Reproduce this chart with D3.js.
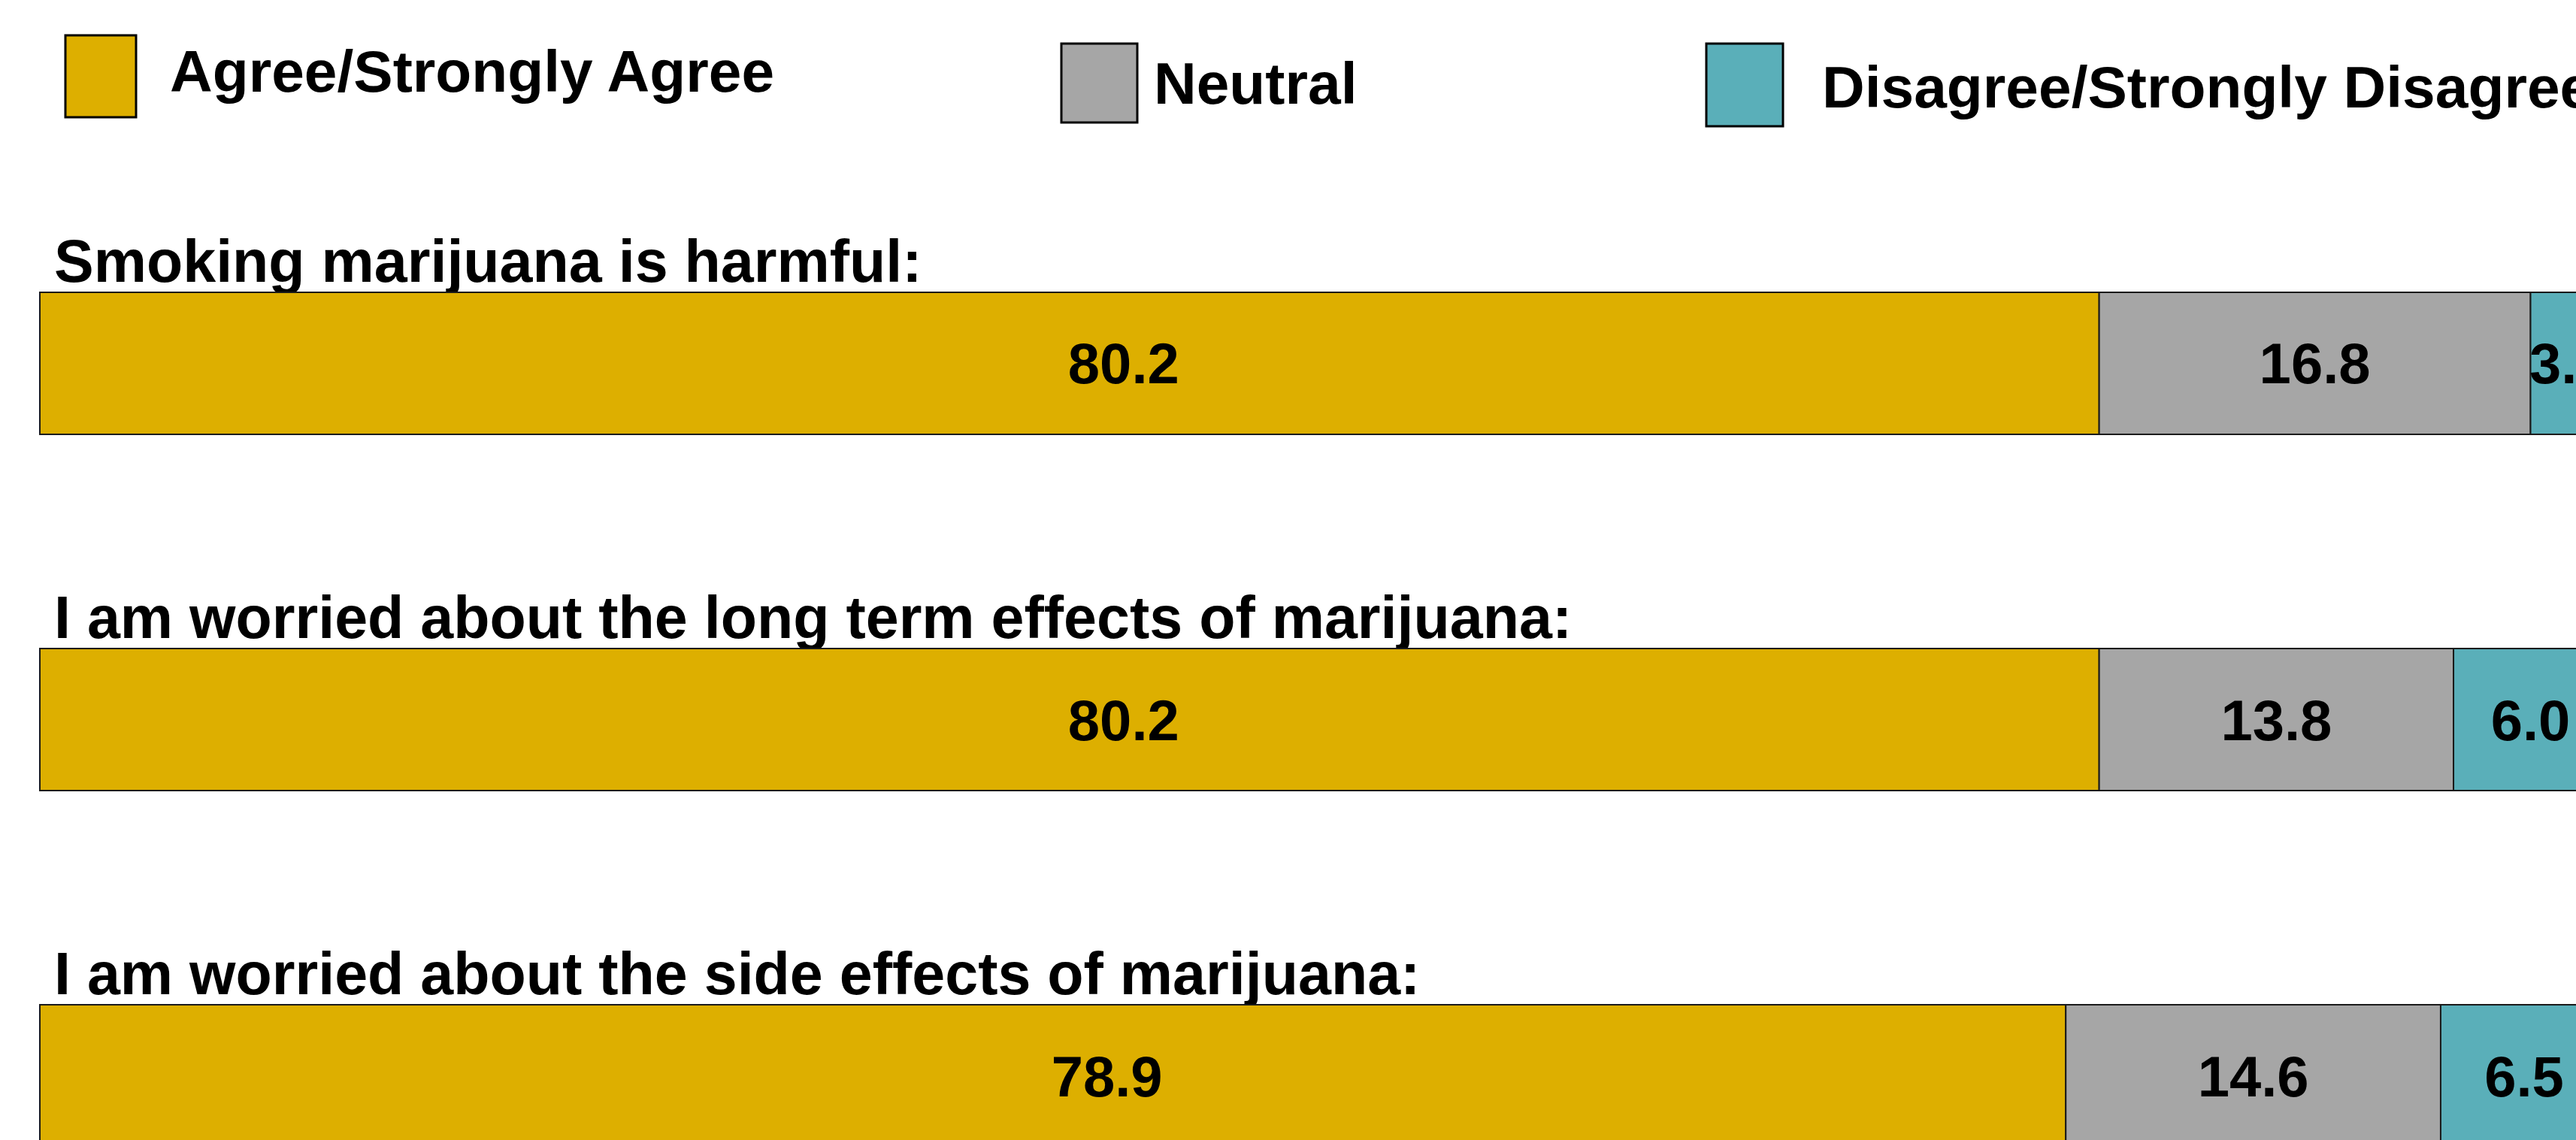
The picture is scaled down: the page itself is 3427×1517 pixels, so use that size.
<!DOCTYPE html>
<html>
<head>
<meta charset="utf-8">
<script src="https://cdn.jsdelivr.net/npm/d3@7"></script>
<style>
  html, body { margin: 0; padding: 0; background: #fff; overflow: hidden; }
  text { font-family: "Liberation Sans", Arial, sans-serif; font-weight: bold; fill: #000; }
</style>
</head>
<body>
<div id="chart"></div>
<script>
// survey statements (one bar each)
const statements = [
  "Smoking marijuana is harmful:",
  "I am worried about the long term effects of marijuana:",
  "I am worried about the side effects of marijuana:"
];
const seriesNames = ["Agree/Strongly Agree", "Neutral", "Disagree/Strongly Disagree"];
const agreeValues = [80.2, 80.2, 78.9];
const neutralValues = [16.8, 13.8, 14.6];
const disagreeValues = [3.0, 6.0, 6.5];

const colors = ["#ddaf00", "#a6a6a6", "#5aafb9"];

const width = 3427;
const height = 1517;

const rows = statements.map((s, i) => ({
  statement: s,
  [seriesNames[0]]: agreeValues[i],
  [seriesNames[1]]: neutralValues[i],
  [seriesNames[2]]: disagreeValues[i]
}));

const svg = d3.select("#chart")
  .append("svg")
  .attr("width", width)
  .attr("height", height)
  .attr("viewBox", `0 0 ${width} ${height}`);

const xScale = d3.scaleLinear()
  .domain([0, 100])
  .range([53, 3469]);

const yScale = d3.scaleBand()
  .domain(statements)
  .range([389, 1526])
  .paddingInner(0.6013)
  .paddingOuter(0);

const color = d3.scaleOrdinal()
  .domain(seriesNames)
  .range(colors);

const stacked = d3.stack().keys(seriesNames)(rows);

// legend
const legendLayout = [
  {bx: 87, by: 47, bw: 94, bh: 109, tx: 226, ty: 122},
  {bx: 1412, by: 58, bw: 101, bh: 105, tx: 1535, ty: 138},
  {bx: 2270, by: 58, bw: 102, bh: 110, tx: 2424, ty: 143}
];
const legend = svg.append("g").attr("class", "legend")
  .selectAll("g")
  .data(seriesNames)
  .enter().append("g");

legend.append("rect")
  .attr("x", (d, i) => legendLayout[i].bx)
  .attr("y", (d, i) => legendLayout[i].by)
  .attr("width", (d, i) => legendLayout[i].bw)
  .attr("height", (d, i) => legendLayout[i].bh)
  .style("fill", d => color(d))
  .style("stroke", "#000")
  .style("stroke-width", 3);

legend.append("text")
  .attr("x", (d, i) => legendLayout[i].tx)
  .attr("y", (d, i) => legendLayout[i].ty)
  .style("font-size", "78.5px")
  .text(d => d);

// statement titles above each bar
svg.append("g").attr("class", "titles")
  .selectAll("text")
  .data(statements)
  .enter().append("text")
  .attr("x", 72)
  .attr("y", d => yScale(d) - 14)
  .style("font-size", "79px")
  .text(d => d);

// stacked bars
const series = svg.append("g").attr("class", "bars")
  .selectAll("g")
  .data(stacked)
  .enter().append("g")
  .style("fill", d => color(d.key));

series.selectAll("rect")
  .data(d => d)
  .enter().append("rect")
  .attr("x", d => xScale(d[0]))
  .attr("y", d => yScale(d.data.statement))
  .attr("width", d => xScale(d[1]) - xScale(d[0]))
  .attr("height", yScale.bandwidth())
  .style("stroke", "#1a1a1a")
  .style("stroke-width", 2);

// value labels (first series label sits right of centre in the original)
const labelShift = [72, 0, 0];
series.each(function(s, si) {
  d3.select(this).selectAll("text")
    .data(s)
    .enter().append("text")
    .attr("x", d => (xScale(d[0]) + xScale(d[1])) / 2 + labelShift[si])
    .attr("y", d => yScale(d.data.statement) + yScale.bandwidth() / 2 + 27)
    .attr("text-anchor", "middle")
    .style("font-size", "76px")
    .style("fill", "#000")
    .text(d => d3.format(".1f")(d[1] - d[0]));
});
</script>
</body>
</html>
